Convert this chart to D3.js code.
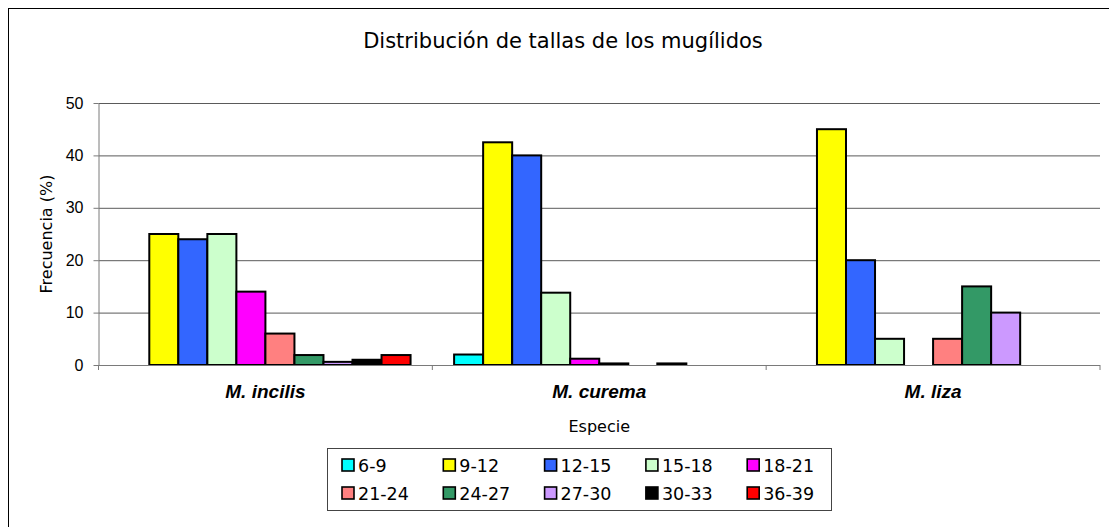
<!DOCTYPE html>
<html>
<head>
<meta charset="utf-8">
<script src="https://cdn.jsdelivr.net/npm/d3@7"></script>
<style>
    body { margin: 0; background: #fff; }
    svg { display: block; font-family: Tahoma, "DejaVu Sans", sans-serif; }
    .grid line { stroke: #5a5a5a; stroke-width: 1; }
    .grid path { display: none; }
    .y.axis path, .y.axis line { stroke: #7a7a7a; }
    .y.axis text { font-size: 16px; fill: #000; }
    .x.axis path { display: none; }
    .x.axis text { font-size: 19px; font-weight: bold; font-style: italic; fill: #000; }
    .label { font-size: 16px; fill: #000; }
    .title { font-size: 21px; fill: #000; }
    .legend text { font-size: 17.5px; fill: #000; }
</style>
</head>
<body>
<svg id="chart" width="1109" height="527"></svg>
<script>
// Data
const species = ["M. incilis", "M. curema", "M. liza"];
const sizeClasses = ["6-9", "9-12", "12-15", "15-18", "18-21", "21-24", "24-27", "27-30", "30-33", "36-39"];
const incilis = [0, 25, 24, 25, 14, 6, 1.9, 0.6, 1, 1.9];
const curema = [2, 42.5, 40, 13.8, 1.2, 0.3, 0, 0.3, 0, 0];
const liza = [0, 45, 20, 5, 0, 5, 15, 10, 0, 0];
const yTicks = [0, 10, 20, 30, 40, 50];

const colors = ["#00ffff", "#ffff00", "#3366ff", "#ccffcc", "#ff00ff",
    "#ff8080", "#339966", "#cc99ff", "#000000", "#ff0000"];

const values = [incilis, curema, liza];

const svg = d3.select('#chart');

// outer frame (runs off the right and bottom edges like the original)
svg.append('rect')
    .attr('x', 8.5)
    .attr('y', 8.5)
    .attr('width', 1130)
    .attr('height', 540)
    .attr('fill', '#fff')
    .attr('stroke', '#000')
    .attr('stroke-width', 1);

const plotLeft = 98.5, plotRight = 1100, plotTop = 103, plotBottom = 365;

const xCat = d3.scaleBand()
    .domain(species)
    .range([plotLeft, plotRight])
    .padding(0);

const xBar = d3.scaleBand()
    .domain(sizeClasses)
    .range([0, xCat.bandwidth()])
    .paddingInner(0)
    .paddingOuter(0.75);

const yScale = d3.scaleLinear()
    .domain([0, 50])
    .range([plotBottom, plotTop]);

// horizontal grid lines
svg.append('g')
    .attr('class', 'grid')
    .attr('transform', `translate(${plotLeft}, 0)`)
    .call(d3.axisLeft(yScale)
        .tickValues(yTicks.slice(1))
        .tickSize(-(plotRight - plotLeft))
        .tickFormat('')
    );

// bars
const groups = svg.selectAll('.species')
    .data(species)
    .enter()
    .append('g')
    .attr('class', 'species')
    .attr('transform', (d) => `translate(${xCat(d)}, 0)`);

groups.selectAll('rect')
    .data((d, i) => sizeClasses.map((c, j) => ({ cls: c, value: values[i][j], color: colors[j] }))
        .filter((b) => b.value > 0))
    .enter()
    .append('rect')
    .attr('x', (b) => xBar(b.cls))
    .attr('y', (b) => yScale(b.value))
    .attr('width', xBar.bandwidth())
    .attr('height', (b) => yScale(0) - yScale(b.value))
    .attr('fill', (b) => b.color)
    .attr('stroke', '#000')
    .attr('stroke-width', 2);

// y axis
svg.append('g')
    .attr('class', 'y axis')
    .attr('transform', `translate(${plotLeft}, 0)`)
    .call(d3.axisLeft(yScale)
        .tickValues(yTicks)
        .tickSize(5)
        .tickSizeOuter(0)
        .tickPadding(10)
    );

// x axis line with ticks at category boundaries
const xAxis = svg.append('g').attr('class', 'x axis');
xAxis.append('line')
    .attr('x1', plotLeft).attr('x2', plotRight)
    .attr('y1', plotBottom + 0.5).attr('y2', plotBottom + 0.5)
    .attr('stroke', '#7a7a7a');
xAxis.selectAll('.sep')
    .data(species.map((s) => xCat(s)).concat([plotRight]))
    .enter()
    .append('line')
    .attr('class', 'sep')
    .attr('x1', (d) => d).attr('x2', (d) => d)
    .attr('y1', plotBottom).attr('y2', plotBottom + 5)
    .attr('stroke', '#7a7a7a');

svg.append('g')
    .attr('class', 'x axis')
    .attr('transform', `translate(0, ${plotBottom})`)
    .call(d3.axisBottom(xCat).tickSize(0).tickPadding(20));

// labels
svg.append('text')
    .attr('class', 'title')
    .attr('x', 563)
    .attr('y', 48)
    .attr('text-anchor', 'middle')
    .text('Distribución de tallas de los mugílidos');

svg.append('text')
    .attr('class', 'label')
    .attr('x', (plotLeft + plotRight) / 2)
    .attr('y', 432)
    .attr('text-anchor', 'middle')
    .text('Especie');

svg.append('text')
    .attr('class', 'label')
    .attr('transform', `translate(52, ${(plotTop + plotBottom) / 2}) rotate(-90)`)
    .attr('text-anchor', 'middle')
    .text('Frecuencia (%)');

// legend
const legend = svg.append('g').attr('class', 'legend');
legend.append('rect')
    .attr('x', 327.5).attr('y', 448.5)
    .attr('width', 504).attr('height', 62)
    .attr('fill', '#fff')
    .attr('stroke', '#444');

const items = legend.selectAll('.item')
    .data(sizeClasses)
    .enter()
    .append('g')
    .attr('class', 'item')
    .attr('transform', (d, i) => `translate(${342 + (i % 5) * 101.3}, ${465 + Math.floor(i / 5) * 28})`);

items.append('rect')
    .attr('x', 0).attr('y', -6)
    .attr('width', 12).attr('height', 12)
    .attr('fill', (d, i) => colors[i])
    .attr('stroke', '#000')
    .attr('stroke-width', 1.6);

items.append('text')
    .attr('x', 16)
    .attr('y', 6.5)
    .text((d) => d);
</script>
</body>
</html>
